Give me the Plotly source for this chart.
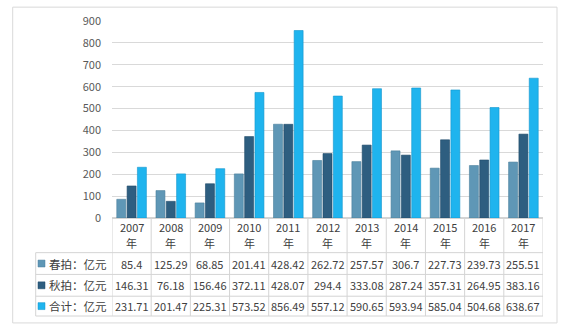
import plotly.graph_objects as go

years = [2007, 2008, 2009, 2010, 2011, 2012, 2013, 2014, 2015, 2016, 2017]
spring = [85.4, 125.29, 68.85, 201.41, 428.42, 262.72, 257.57, 306.7, 227.73, 239.73, 255.51]
autumn = [146.31, 76.18, 156.46, 372.11, 428.07, 294.4, 333.08, 287.24, 357.31, 264.95, 383.16]
total = [231.71, 201.47, 225.31, 573.52, 856.49, 557.12, 590.65, 593.94, 585.04, 504.68, 638.67]
series_names = ["春拍：亿元", "秋拍：亿元", "合计：亿元"]
y_ticks = [0, 100, 200, 300, 400, 500, 600, 700, 800, 900]

colors = ["#5f97b6", "#2e5e80", "#1fb4ee"]
edge = ["#4a7f9c", "#1f4a68", "#1296cc"]
FONT = "Noto Sans CJK SC"
W, H = 568, 330
L, R, T, B = 112, 25, 19, 112
PW, PH = W - L - R, H - T - B


def px(x):
    return (x - L) / PW


def py(y):
    return (H - B - y) / PH


fig = go.Figure()
for name, vals, c, e in zip(series_names, [spring, autumn, total], colors, edge):
    fig.add_trace(go.Bar(x=years, y=vals, name=name, marker=dict(color=c, line=dict(color=e, width=0.6)),
                         showlegend=False))

line_c = "#d4d4d4"
shapes = []
# outer border
shapes.append(dict(type="rect", xref="paper", yref="paper", x0=px(12.7), x1=px(557), y0=py(324), y1=py(5),
                   line=dict(color="#d9d9d9", width=1)))
# vertical table lines at category boundaries
for i in range(len(years) + 1):
    xv = years[0] - 0.5 + i
    shapes.append(dict(type="line", xref="x", yref="paper", x0=xv, x1=xv, y0=0, y1=py(317),
                       line=dict(color=line_c, width=1)))
# left column line
shapes.append(dict(type="line", xref="paper", yref="paper", x0=px(35.7), x1=px(35.7), y0=py(253), y1=py(317),
                   line=dict(color=line_c, width=1)))
# horizontal lines
for yy in [253, 275, 297, 317]:
    shapes.append(dict(type="line", xref="paper", yref="paper", x0=px(35.7), x1=1, y0=py(yy), y1=py(yy),
                       line=dict(color=line_c, width=1)))

annotations = []
row_centers = [264, 286, 307]
for r, (name, vals) in enumerate(zip(series_names, [spring, autumn, total])):
    yc = py(row_centers[r])
    shapes.append(dict(type="rect", xref="paper", yref="paper", x0=px(38), x1=px(45), y0=py(row_centers[r] + 3.5),
                       y1=py(row_centers[r] - 3.5), fillcolor=colors[r], line=dict(color=edge[r], width=0.5)))
    annotations.append(dict(xref="paper", yref="paper", x=px(46.5), y=yc, text=name, showarrow=False,
                            xanchor="left", yanchor="middle", font=dict(family=FONT, size=11.5, color="#404040")))
    for yr, v in zip(years, vals):
        annotations.append(dict(xref="x", yref="paper", x=yr, y=yc, text=f"{v:g}", showarrow=False,
                                xanchor="center", yanchor="middle",
                                font=dict(family=FONT, size=11, color="#404040")))
for yr in years:
    annotations.append(dict(xref="x", yref="paper", x=yr, y=py(227), text=str(yr), showarrow=False,
                            xanchor="center", yanchor="middle", font=dict(family=FONT, size=11, color="#404040")))
    annotations.append(dict(xref="x", yref="paper", x=yr, y=py(243.5), text="年", showarrow=False,
                            xanchor="center", yanchor="middle", font=dict(family=FONT, size=11, color="#404040")))

fig.update_layout(
    width=W, height=H, margin=dict(l=L, r=R, t=T, b=B),
    paper_bgcolor="white", plot_bgcolor="white",
    barmode="group", bargap=0.21, bargroupgap=0.13,
    shapes=shapes, annotations=annotations,
    xaxis=dict(range=[years[0] - 0.5, years[-1] + 0.5], showticklabels=False, showgrid=False,
               zeroline=False, showline=False, ticks=""),
    yaxis=dict(range=[0, 900], tickvals=y_ticks, showgrid=True, gridcolor="#d9d9d9", gridwidth=1,
               zeroline=True, zerolinecolor="#d4d4d4", showline=False, ticks="", ticklen=0,
               tickfont=dict(family=FONT, size=11, color="#595959"), ticklabelstandoff=10),
    font=dict(family=FONT),
)
fig.write_html("out.html")
